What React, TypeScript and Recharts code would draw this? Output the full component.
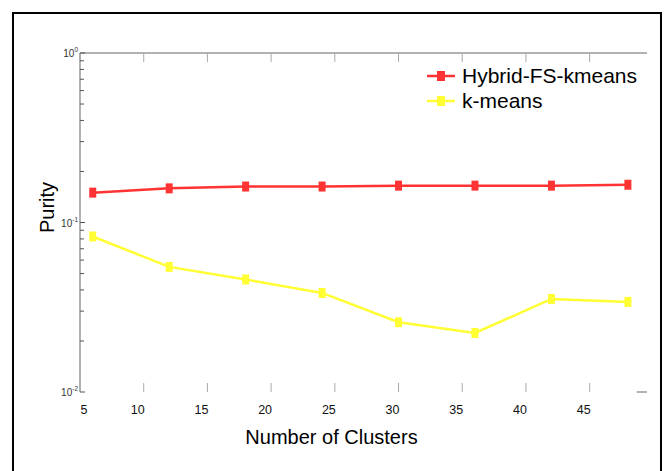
import { LineChart, Line, XAxis, YAxis, Legend, ReferenceLine } from 'recharts'

const clusters = [6, 12, 18, 24, 30, 36, 42, 48]
const hybridPurity = [0.15, 0.159, 0.163, 0.163, 0.165, 0.165, 0.165, 0.167]
const kmeansPurity = [0.0827, 0.0547, 0.0461, 0.0384, 0.0258, 0.0223, 0.0354, 0.034]
const xTicks = [5, 10, 15, 20, 25, 30, 35, 40, 45]
const yMajorTicks = [0.01, 0.1, 1]
const yMinorTicks = [0.02, 0.03, 0.04, 0.05, 0.06, 0.07, 0.08, 0.09, 0.2, 0.3, 0.4, 0.5, 0.6, 0.7, 0.8, 0.9]

const data = clusters.map((c, i) => ({ clusters: c, hybrid: hybridPurity[i], kmeans: kmeansPurity[i] }))

const FONT = 'Arial, "Liberation Sans", Helvetica, sans-serif'
const RED = '#ff3333'
const YELLOW = '#ffff33'

const SquareDot = (props: any) => {
  const { cx, cy, stroke } = props
  if (cx == null || cy == null) return null
  return <rect x={cx - 3.5} y={cy - 5} width={7} height={10} fill={stroke} />
}

const BottomTick = (props: any) => {
  const { x, y, payload, index } = props
  return (
    <g>
      <line x1={x} x2={x} y1={y} y2={y - 9} stroke="#aaa" />
      <text x={x + (index === 0 ? 4 : -6)} y={y + 22} textAnchor="middle" fontSize={12.5} fontFamily={FONT} fill="#111">
        {payload.value}
      </text>
    </g>
  )
}

const TopTick = (props: any) => {
  const { x, y } = props
  return <line x1={x} x2={x} y1={y} y2={y + 9} stroke="#aaa" />
}

const LeftTick = (props: any) => {
  const { x, y, payload } = props
  const v = payload.value
  const major = yMajorTicks.includes(v)
  const exp = Math.round(Math.log10(v))
  return (
    <g>
      <line x1={x} x2={x + (major ? 5 : 4)} y1={y} y2={y} stroke="#555" />
      {major && (
        <text x={x - 2} y={y + 4} textAnchor="end" fontSize={10} fontFamily={FONT} fill="#333">
          10<tspan dy={-5} fontSize={6.5}>{exp}</tspan>
        </text>
      )}
    </g>
  )
}

const XLabel = (props: any) => {
  const { viewBox } = props
  return (
    <text x={viewBox.x + viewBox.width / 2 - 32} y={viewBox.y + 52} textAnchor="middle" fontSize={20} fontFamily={FONT} fill="#000">
      Number of Clusters
    </text>
  )
}

const YLabel = (props: any) => {
  const { viewBox } = props
  const cx = viewBox.x + 27
  const cy = viewBox.y + viewBox.height / 2 - 15
  return (
    <text x={cx} y={cy} transform={`rotate(-90 ${cx} ${cy})`} textAnchor="middle" dominantBaseline="central" fontSize={20} fontFamily={FONT} fill="#000">
      Purity
    </text>
  )
}

const LegendBox = (props: any) => {
  const { payload = [] } = props
  return (
    <div style={{ fontFamily: FONT, fontSize: 21, color: '#000' }}>
      {payload.map((p: any) => (
        <div key={p.value} style={{ display: 'flex', alignItems: 'center', height: 25 }}>
          <svg width={35} height={14} style={{ display: 'block' }}>
            <line x1={0} x2={28} y1={7} y2={7} stroke={p.color} strokeWidth={2.5} />
            <rect x={10} y={2} width={8} height={10} fill={p.color} />
          </svg>
          <span style={{ lineHeight: '25px' }}>{p.value}</span>
        </div>
      ))}
    </div>
  )
}

export default function App() {
  return (
    <div style={{ position: 'absolute', left: 0, top: 0, width: 665, height: 471, overflow: 'hidden', background: '#fff' }}>
      <div
        style={{
          position: 'absolute',
          left: 12,
          top: 12,
          width: 646,
          height: 470,
          borderLeft: '2px solid #000',
          borderTop: '2px solid #000',
          borderRight: '2px solid #000',
        }}
      />
      <LineChart width={665} height={471} data={data} margin={{ top: 52, right: 18, left: 20, bottom: 39 }}>
        <XAxis
          xAxisId="top"
          orientation="top"
          dataKey="clusters"
          type="number"
          domain={[5, 49.5]}
          ticks={xTicks}
          interval={0}
          height={1}
          tickSize={0}
          tickMargin={0}
          tickLine={false}
          axisLine={{ stroke: '#999', strokeWidth: 1.5 }}
          tick={<TopTick />}
        />
        <XAxis
          dataKey="clusters"
          type="number"
          domain={[5, 49.5]}
          ticks={xTicks}
          interval={0}
          height={40}
          tickSize={0}
          tickMargin={0}
          tickLine={false}
          axisLine={false}
          tick={<BottomTick />}
          label={<XLabel />}
        />
        <YAxis
          scale="log"
          domain={[0.01, 1]}
          allowDataOverflow
          ticks={[...yMajorTicks, ...yMinorTicks]}
          interval={0}
          width={60}
          tickSize={0}
          tickMargin={0}
          tickLine={false}
          axisLine={{ stroke: '#999', strokeWidth: 1.5 }}
          tick={<LeftTick />}
          label={<YLabel />}
        />
        <ReferenceLine
          segment={[{ x: 48.7, y: 0.01 }, { x: 49.5, y: 0.01 }]}
          stroke="#999"
          strokeWidth={1.5}
        />
        <Legend
          layout="vertical"
          align="center"
          verticalAlign="middle"
          content={<LegendBox />}
          wrapperStyle={{ position: 'absolute', left: 427, top: 63, width: 232 }}
        />
        <Line
          name="Hybrid-FS-kmeans"
          dataKey="hybrid"
          type="linear"
          stroke={RED}
          strokeWidth={2.5}
          dot={<SquareDot />}
          isAnimationActive={false}
        />
        <Line
          name="k-means"
          dataKey="kmeans"
          type="linear"
          stroke={YELLOW}
          strokeWidth={2.5}
          dot={<SquareDot />}
          isAnimationActive={false}
        />
      </LineChart>
    </div>
  )
}
